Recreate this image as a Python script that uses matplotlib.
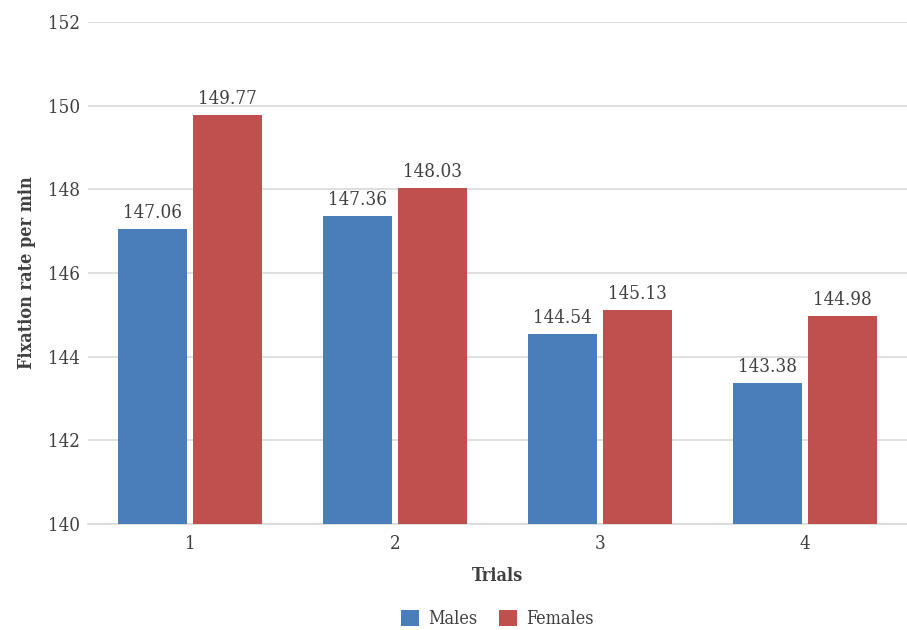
import matplotlib
matplotlib.use("Agg")
import matplotlib.pyplot as plt
import numpy as np

categories = ["1", "2", "3", "4"]
males = [147.06, 147.36, 144.54, 143.38]
females = [149.77, 148.03, 145.13, 144.98]
yticks = [140, 142, 144, 146, 148, 150, 152]

plt.rcParams['font.family'] = ['DejaVu Serif']
plt.rcParams['font.stretch'] = 'condensed'

fig = plt.figure(figsize=(9.07, 6.3), dpi=100)
ax = fig.add_axes([0.097, 0.168, 0.903, 0.797])

x = np.arange(len(categories))
w = 0.337
off = w / 2 + 0.015
c_m = '#4A7EBB'
c_f = '#C0504D'
tc = '#404040'
b1 = ax.bar(x - off, males, w, color=c_m, label='Males', zorder=3)
b2 = ax.bar(x + off, females, w, color=c_f, label='Females', zorder=3)
ax.set_ylim(140, 152)
ax.set_xlim(-0.5, 3.5)
ax.set_yticks(yticks)
ax.set_xticks(x)
ax.set_xticklabels(categories)
ax.grid(axis='y', color='#D9D9D9', linewidth=1.2, zorder=0)
for s in ['top', 'right', 'left']:
    ax.spines[s].set_visible(False)
ax.spines['bottom'].set_color('#D9D9D9')
ax.spines['bottom'].set_linewidth(1.2)
ax.tick_params(axis='both', length=0, labelsize=13.5, colors=tc, pad=8)
ax.tick_params(axis='y', pad=6)

for bars, vals in [(b1, males), (b2, females)]:
    for r, v in zip(bars, vals):
        ax.annotate(f"{v:.2f}", (r.get_x() + r.get_width() / 2, v),
                    xytext=(0, 5), textcoords='offset points',
                    ha='center', va='bottom', fontsize=13.5, color=tc)

ax.set_xlabel('Trials', fontsize=13, fontweight='bold', color=tc, labelpad=10)
ax.set_ylabel('Fixation rate per min', fontsize=13, fontweight='bold', color=tc, labelpad=8)
fig.legend(handles=[b1, b2], loc='center', bbox_to_anchor=(0.548, 0.018), ncol=2,
           frameon=False, fontsize=13, handlelength=1.0, handleheight=1.0,
           columnspacing=1.2, handletextpad=0.5, labelcolor=tc)
fig.savefig('out.png', dpi=100)
